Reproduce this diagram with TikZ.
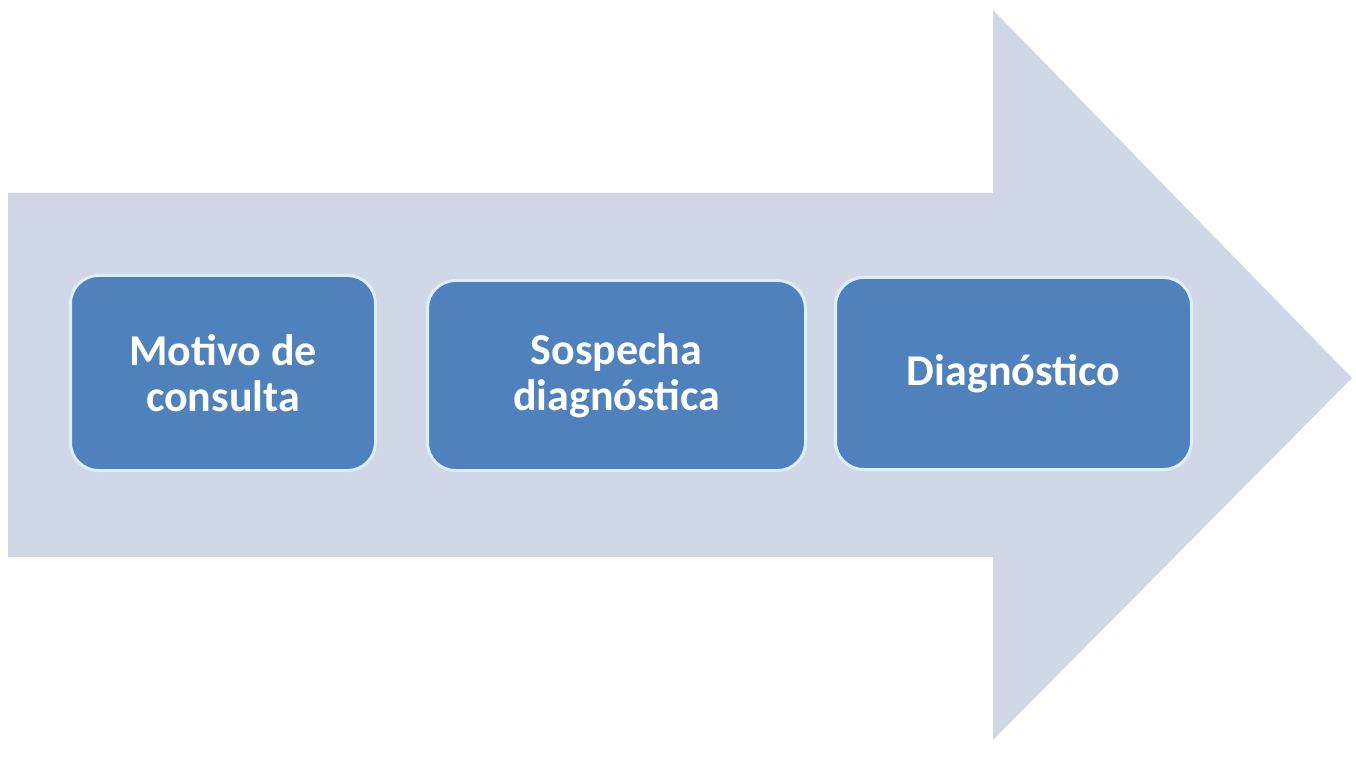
\documentclass[tikz,border=0pt]{standalone}
\usepackage{fontspec}
\setmainfont{Carlito}
\definecolor{arrowfill}{HTML}{D0D8E8}
\definecolor{boxfill}{HTML}{4F81BD}
\definecolor{boxline}{HTML}{DDEEFF}
\tikzset{
  stepbox/.style={draw=boxline, line width=3pt, fill=boxfill, rounded corners=28pt,
    text=white, font=\fontsize{44}{46}\selectfont\bfseries, align=center, anchor=south west}
}
\begin{document}
\begin{tikzpicture}[x=1pt,y=1pt]
\useasboundingbox (0,0) rectangle (1356,756);
\fill[white] (0,0) rectangle (1356,756);
% big arrow (y flipped: Y = 756 - y)
\fill[arrowfill] (8,563) -- (993,563) -- (993,746) -- (1352,378) -- (993,16) -- (993,199) -- (8,199) -- cycle;
\node[stepbox, minimum width=305pt, minimum height=195pt] (b1) at (69,284) {Motivo de\\consulta};
\node[stepbox, minimum width=378pt, minimum height=190pt] (b2) at (426,284) {Sospecha\\diagnóstica};
\node[stepbox, minimum width=356pt, minimum height=192pt] (b3) at (834,285) {Diagnóstico};
\end{tikzpicture}
\end{document}
